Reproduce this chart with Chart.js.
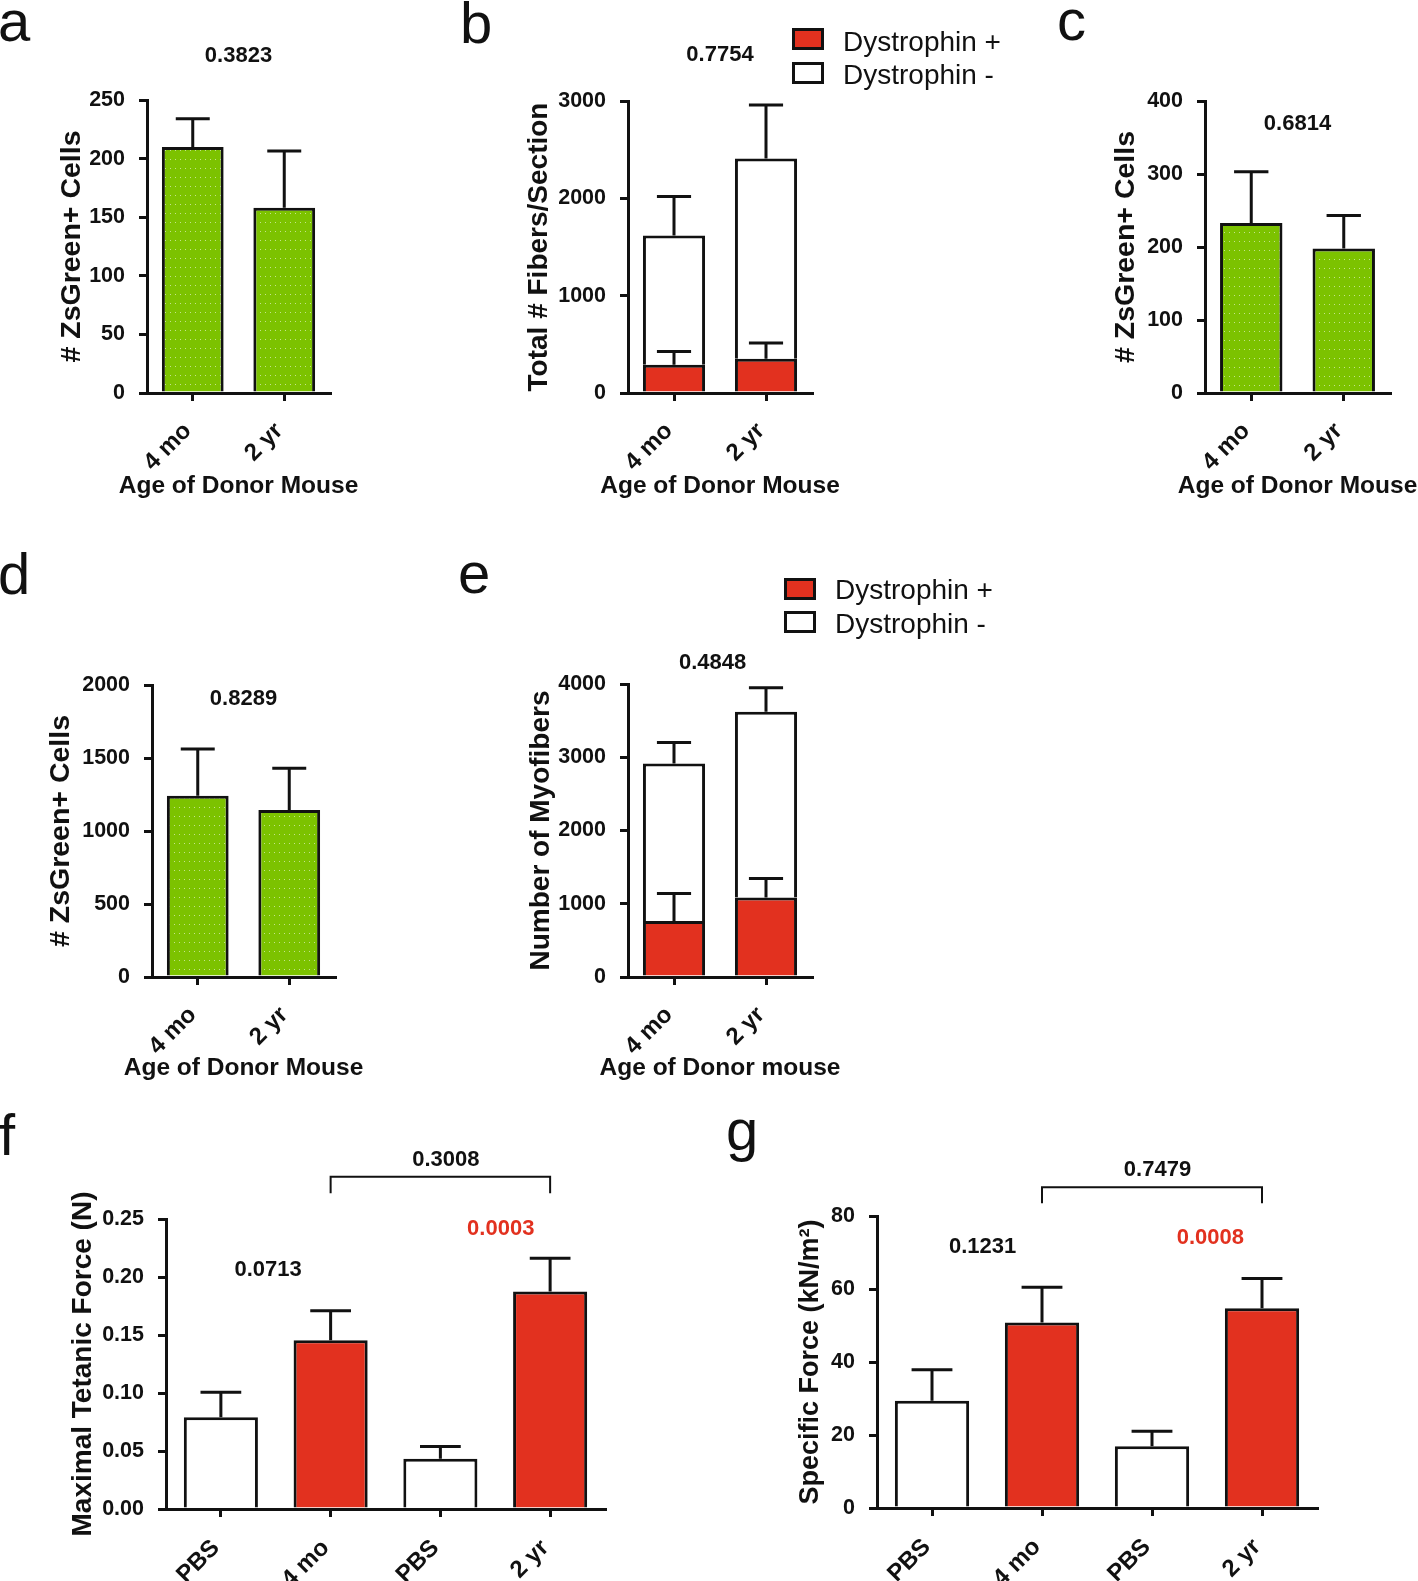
<!DOCTYPE html>
<html>
<head>
<meta charset="utf-8">
<script src="https://cdn.jsdelivr.net/npm/chart.js@4.4.1/dist/chart.umd.min.js"></script>
<style>
  html, body { margin: 0; padding: 0; background: #fff; overflow: hidden; }
  #page { position: relative; width: 1418px; height: 1581px; overflow: hidden; background: #fff; }
  #page canvas { position: absolute; }
  .letter { position: absolute; font-family: 'Liberation Sans', Arial, sans-serif; font-size: 58px; line-height: 58px; color: #111; }
  .legend-box { position: absolute; box-sizing: border-box; border: 3px solid #111; }
  .legend-text { position: absolute; font-family: 'Liberation Sans', Arial, sans-serif; font-size: 28px; line-height: 28px; color: #111; white-space: nowrap; }
</style>
</head>
<body>
<div id="page"></div>
<script>
const FONT = "'Liberation Sans', Arial, sans-serif";
const INK = "#111";
const GREEN = "#7cc200";
const RED = "#e2311f";

// categories
const donorAges = ["4 mo", "2 yr"];
const forceGroups = ["PBS", "4 mo", "PBS", "2 yr"];
const seriesNames = ["Dystrophin +", "Dystrophin -"];

// a - ZsGreen+ cells
const cellsA = [210, 158];
const cellsAErr = [24, 48.5];
// b - fibers per section
const fibersPos = [290, 352];
const fibersPosErr = [137, 161];
const fibersNeg = [1328, 2056];
const fibersNegErr = [400, 551];
// c - ZsGreen+ cells
const cellsC = [233, 198];
const cellsCErr = [70, 45];
// d - ZsGreen+ cells
const cellsD = [1241, 1143];
const cellsDErr = [320, 286];
// e - myofibers
const myoPos = [765, 1085];
const myoPosErr = [375, 259];
const myoNeg = [2151, 2537];
const myoNegErr = [287, 328];
// f - maximal tetanic force
const tetanic = [0.079, 0.1455, 0.0433, 0.1874];
const tetanicErr = [0.0216, 0.0255, 0.0106, 0.0287];
// g - specific force
const specific = [29.4, 50.8, 16.9, 54.7];
const specificErr = [8.5, 9.7, 4.1, 8.2];

// p values
const pA = ["0.3823"];
const pB = ["0.7754"];
const pC = ["0.6814"];
const pD = ["0.8289"];
const pE = ["0.4848"];
const pF = ["0.3008", "0.0713", "0.0003"];
const pG = ["0.7479", "0.1231", "0.0008"];

const page = document.getElementById("page");

function dotPattern() {
    const c = document.createElement("canvas");
    c.width = 5;
    c.height = 9;
    const g = c.getContext("2d");
    g.fillStyle = GREEN;
    g.fillRect(0, 0, 5, 9);
    g.fillStyle = "rgba(255,255,255,0.55)";
    g.fillRect(2, 4, 1, 1);
    return g.createPattern(c, "repeat");
}
const greenFill = dotPattern();

const errorBars = {
    id: "errorBars",
    afterDatasetsDraw(chart) {
        const ctx = chart.ctx;
        const y = chart.scales.y;
        const zero = y.getPixelForValue(0);
        chart.data.datasets.forEach((ds, di) => {
            if (!ds.errors) return;
            chart.getDatasetMeta(di).data.forEach((bar, i) => {
                const top = bar.y - (zero - y.getPixelForValue(ds.errors[i]));
                const cap = bar.width * 0.55;
                ctx.save();
                ctx.strokeStyle = INK;
                ctx.lineWidth = 3;
                ctx.beginPath();
                ctx.moveTo(bar.x, bar.y);
                ctx.lineTo(bar.x, top);
                ctx.moveTo(bar.x - cap / 2, top);
                ctx.lineTo(bar.x + cap / 2, top);
                ctx.stroke();
                ctx.restore();
            });
        });
    }
};

// p values, comparison brackets and the x axis title (drawn without width squeeze)
const pValues = {
    id: "pValues",
    afterDraw(chart, args, opts) {
        const {ctx, chartArea, scales: {x, y}} = chart;
        (opts.brackets || []).forEach(b => {
            const x1 = x.getPixelForValue(b.from);
            const x2 = x.getPixelForValue(b.to);
            const yTop = y.getPixelForValue(b.y);
            const yEnd = y.getPixelForValue(b.yEnd);
            ctx.save();
            ctx.strokeStyle = INK;
            ctx.lineWidth = 2;
            ctx.beginPath();
            ctx.moveTo(x1, yEnd);
            ctx.lineTo(x1, yTop);
            ctx.lineTo(x2, yTop);
            ctx.lineTo(x2, yEnd);
            ctx.stroke();
            ctx.restore();
        });
        (opts.labels || []).forEach(l => {
            ctx.save();
            ctx.font = `bold 22px ${FONT}`;
            ctx.fillStyle = l.color || INK;
            ctx.textAlign = "center";
            ctx.textBaseline = "middle";
            ctx.fillText(l.text, x.getPixelForValue(l.x), y.getPixelForValue(l.y));
            ctx.restore();
        });
        if (opts.xTitle) {
            ctx.save();
            ctx.font = `bold 24.5px ${FONT}`;
            ctx.fillStyle = INK;
            ctx.textAlign = "center";
            ctx.textBaseline = "middle";
            ctx.fillText(opts.xTitle, (chartArea.left + chartArea.right) / 2, chartArea.bottom + opts.xTitleDy);
            ctx.restore();
        }
    }
};

function makeChart(p) {
    const yLh = p.yTitleSize * 1.2;
    const cLeft = Math.round(p.yTitleX - yLh / 2 - 2);
    const titlePad = p.yTitleX - cLeft - yLh / 2;
    const padTop = 80;
    const padRight = p.padRight || 40;
    const yW = p.area.l - cLeft;
    const xH = Math.round(p.xTitleY ? p.xTitleY - p.area.b + 18 : 90);

    const canvas = document.createElement("canvas");
    canvas.width = Math.round(p.area.r - cLeft + padRight);
    canvas.height = Math.round(padTop + (p.area.b - p.area.t) + xH);
    canvas.style.left = cLeft + "px";
    canvas.style.top = (p.area.t - padTop) + "px";
    page.appendChild(canvas);

    return new Chart(canvas, {
        type: "bar",
        data: {labels: p.labels, datasets: p.datasets},
        plugins: [errorBars, pValues],
        options: {
            responsive: false,
            animation: false,
            devicePixelRatio: 1,
            layout: {padding: {top: padTop, right: padRight, left: 0, bottom: 0}},
            plugins: {
                legend: {display: false},
                tooltip: {enabled: false},
                pValues: {
                    labels: p.pLabels, brackets: p.brackets,
                    xTitle: p.xTitle, xTitleDy: p.xTitleY ? p.xTitleY - p.area.b : 0
                }
            },
            scales: {
                x: {
                    stacked: !!p.stacked,
                    offset: true,
                    grid: {display: true, drawOnChartArea: false, offset: false, tickLength: 8,
                        tickWidth: 3, tickColor: INK, color: INK, lineWidth: 3},
                    border: {display: true, color: INK, width: 3, z: 1},
                    ticks: {color: INK, font: {family: FONT, size: 24, weight: "bold"},
                        minRotation: 45, maxRotation: 45, autoSkip: false,
                        padding: p.xTickPad, labelOffset: -5},
                    title: {display: false},
                    afterFit: s => { s.height = xH; }
                },
                y: {
                    stacked: !!p.stacked,
                    min: 0,
                    max: p.yMax,
                    grid: {drawOnChartArea: false, tickLength: 8, tickWidth: 3, tickColor: INK,
                        color: INK, lineWidth: 3},
                    border: {display: true, color: INK, width: 3},
                    ticks: {stepSize: p.yStep, color: INK, padding: 14,
                        font: {family: FONT, size: 21.5, weight: "bold"},
                        callback: p.fmt || (v => v)},
                    title: {display: true, text: p.yTitle, color: INK,
                        font: {family: FONT, size: p.yTitleSize, weight: "bold"},
                        padding: {top: titlePad, bottom: 0}},
                    afterFit: s => { s.width = yW; }
                }
            }
        }
    });
}

function plainBars(values, errors, colors) {
    return [{
        data: values, errors: errors,
        backgroundColor: colors, borderColor: INK, borderWidth: 3,
        borderSkipped: "start", barPercentage: 1, categoryPercentage: 0.675
    }];
}

function stackedBars(pos, posErr, neg, negErr) {
    return [
        {label: seriesNames[0], data: pos, errors: posErr, backgroundColor: RED, borderColor: INK,
            borderWidth: 3, borderSkipped: "start", barPercentage: 1, categoryPercentage: 0.675},
        {label: seriesNames[1], data: neg, errors: negErr, backgroundColor: "#fff", borderColor: INK,
            borderWidth: 3, borderSkipped: "bottom", barPercentage: 1, categoryPercentage: 0.675}
    ];
}

const forceColors = ["#fff", RED, "#fff", RED];

const chartB = makeChart({
    area: {l: 628, t: 101, r: 812, b: 393}, labels: donorAges, stacked: true,
    datasets: stackedBars(fibersPos, fibersPosErr, fibersNeg, fibersNegErr),
    yMax: 3000, yStep: 1000, yTitle: "Total # Fibers/Section", yTitleX: 539, yTitleSize: 28,
    xTitle: "Age of Donor Mouse", xTitleY: 486, xTickPad: 16,
    pLabels: [{text: pB[0], x: 0.5, y: 3469}]
});

makeChart({
    area: {l: 147, t: 100, r: 330, b: 393}, labels: donorAges,
    datasets: plainBars(cellsA, cellsAErr, greenFill),
    yMax: 250, yStep: 50, yTitle: "# ZsGreen+ Cells", yTitleX: 72, yTitleSize: 28.5,
    xTitle: "Age of Donor Mouse", xTitleY: 486, xTickPad: 16,
    pLabels: [{text: pA[0], x: 0.5, y: 288}]
});

makeChart({
    area: {l: 1205, t: 101, r: 1390, b: 393}, labels: donorAges, padRight: 28,
    datasets: plainBars(cellsC, cellsCErr, greenFill),
    yMax: 400, yStep: 100, yTitle: "# ZsGreen+ Cells", yTitleX: 1126, yTitleSize: 28.5,
    xTitle: "Age of Donor Mouse", xTitleY: 486, xTickPad: 16,
    pLabels: [{text: pC[0], x: 0.5, y: 368}]
});

makeChart({
    area: {l: 152, t: 685, r: 335, b: 977}, labels: donorAges,
    datasets: plainBars(cellsD, cellsDErr, greenFill),
    yMax: 2000, yStep: 500, yTitle: "# ZsGreen+ Cells", yTitleX: 61.5, yTitleSize: 28.5,
    xTitle: "Age of Donor Mouse", xTitleY: 1068, xTickPad: 16,
    pLabels: [{text: pD[0], x: 0.5, y: 1903}]
});

const chartE = makeChart({
    area: {l: 628, t: 684, r: 812, b: 977}, labels: donorAges, stacked: true,
    datasets: stackedBars(myoPos, myoPosErr, myoNeg, myoNegErr),
    yMax: 4000, yStep: 1000, yTitle: "Number of Myofibers", yTitleX: 541, yTitleSize: 28,
    xTitle: "Age of Donor mouse", xTitleY: 1068, xTickPad: 16,
    pLabels: [{text: pE[0], x: 0.42, y: 4283}]
});

makeChart({
    area: {l: 166, t: 1219, r: 605, b: 1509}, labels: forceGroups,
    datasets: plainBars(tetanic, tetanicErr, forceColors),
    yMax: 0.25, yStep: 0.05, fmt: v => v.toFixed(2),
    yTitle: "Maximal Tetanic Force (N)", yTitleX: 83, yTitleSize: 28, xTickPad: 17,
    pLabels: [
        {text: pF[0], x: 2.05, y: 0.3012},
        {text: pF[1], x: 0.43, y: 0.2065},
        {text: pF[2], x: 2.55, y: 0.2416, color: RED}
    ],
    brackets: [{from: 1, to: 3, y: 0.2864, yEnd: 0.2721}]
});

makeChart({
    area: {l: 877, t: 1216, r: 1317, b: 1508}, labels: forceGroups,
    datasets: plainBars(specific, specificErr, forceColors),
    yMax: 80, yStep: 20,
    yTitle: "Specific Force (kN/m²)", yTitleX: 811, yTitleSize: 27, xTickPad: 17,
    pLabels: [
        {text: pG[0], x: 2.05, y: 92.7},
        {text: pG[1], x: 0.46, y: 71.6},
        {text: pG[2], x: 2.53, y: 74.0, color: RED}
    ],
    brackets: [{from: 1, to: 3, y: 87.9, yEnd: 83.5}]
});

// legends built from the stacked datasets
function addLegend(chart, boxLeft, textLeft, tops, textTops) {
    chart.data.datasets.forEach((ds, i) => {
        const box = document.createElement("div");
        box.className = "legend-box";
        box.style.left = boxLeft + "px";
        box.style.top = tops[i] + "px";
        box.style.width = "32px";
        box.style.height = "22px";
        box.style.background = ds.backgroundColor;
        page.appendChild(box);
        const txt = document.createElement("div");
        txt.className = "legend-text";
        txt.style.left = textLeft + "px";
        txt.style.top = textTops[i] + "px";
        txt.textContent = ds.label;
        page.appendChild(txt);
    });
}
addLegend(chartB, 792, 843, [28, 62], [27.8, 60.6]);
addLegend(chartE, 784, 835, [577.5, 611], [576.3, 609.6]);

// panel letters
[["a", -2, -8], ["b", 460, -6], ["c", 1057, -9], ["d", -2, 545],
 ["e", 458, 544], ["f", -1, 1106], ["g", 726, 1101]].forEach(([t, x, y]) => {
    const el = document.createElement("div");
    el.className = "letter";
    el.style.left = x + "px";
    el.style.top = y + "px";
    el.textContent = t;
    page.appendChild(el);
});
</script>
</body>
</html>
